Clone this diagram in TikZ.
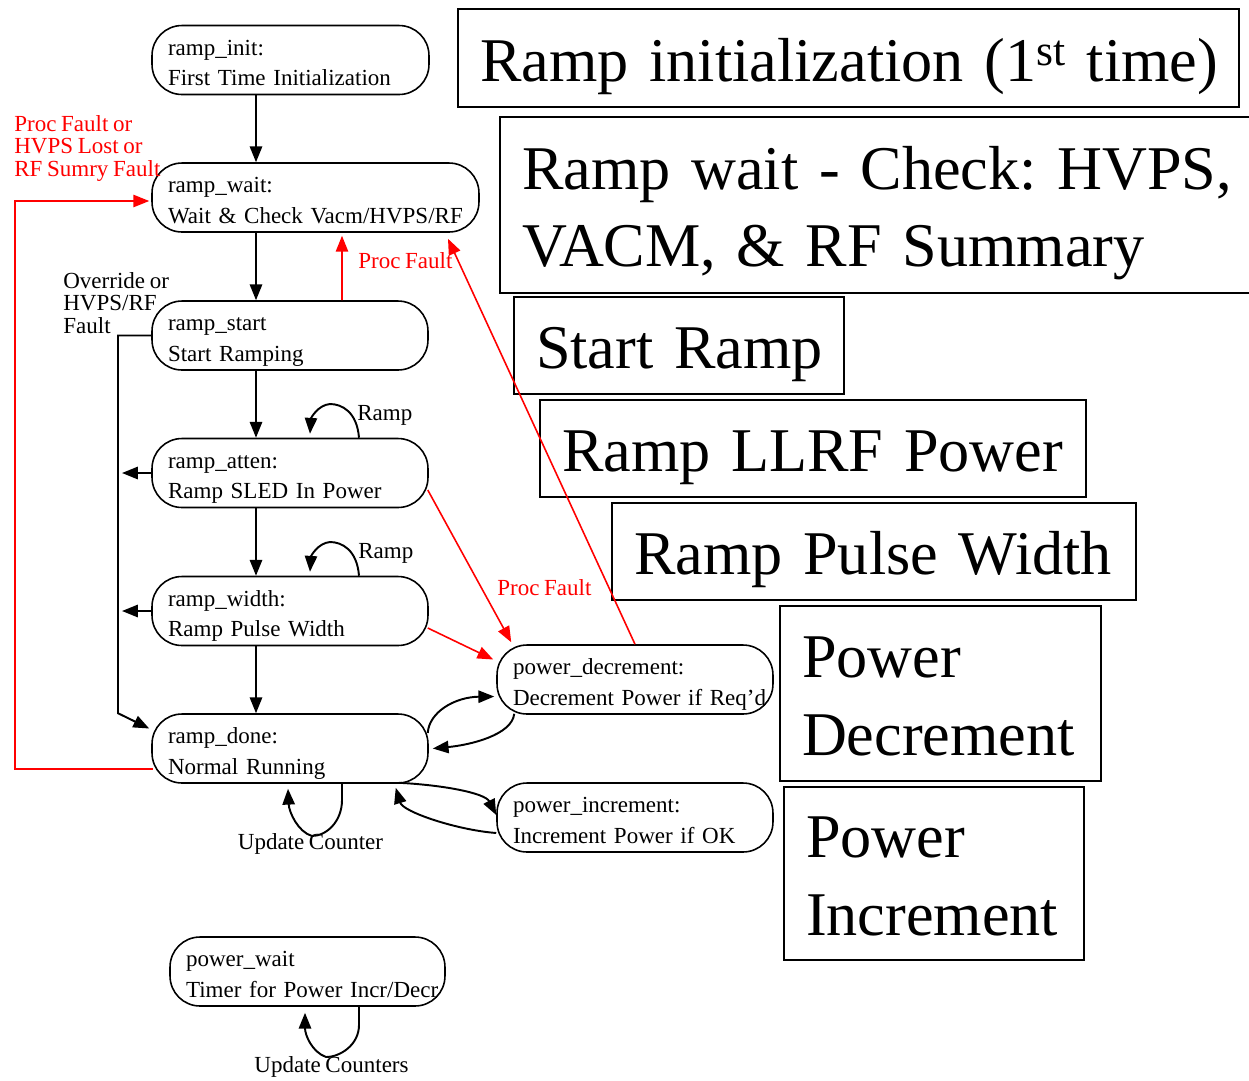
\documentclass[tikz,border=0pt]{standalone}
\usepackage{fontspec}
\setmainfont{Liberation Serif}
\usetikzlibrary{arrows.meta,calc}
\frenchspacing
\newcommand\smf{\fontsize{13.1pt}{17.6pt}\selectfont\spaceskip=0.2em plus 0.05em\relax}
\newcommand\lbf{\fontsize{13.1pt}{12.8pt}\selectfont\spaceskip=0.2em plus 0.05em\relax}
\newcommand\bgf{\fontsize{35.4pt}{44.2pt}\selectfont}
\newcommand\twol[2]{\rule{0pt}{0.52cm}\mbox{#1}\\\mbox{#2}\rule[-0.1cm]{0pt}{0.1cm}}
\newcommand\bone[1]{\rule{0pt}{1.32cm}\mbox{#1}\rule[-0.4cm]{0pt}{0.4cm}}
\newcommand\btwo[2]{\rule{0pt}{1.32cm}\mbox{#1}\\\mbox{#2}\rule[-0.4cm]{0pt}{0.4cm}}
\begin{document}
\begin{tikzpicture}[x=0.02cm,y=-0.02cm,
 st/.style={draw, line width=0.9pt, rounded corners=0.6cm, minimum height=1.38cm, inner xsep=0.32cm, inner ysep=0pt, align=left, font=\smf},
 bb/.style={draw, line width=1.1pt, inner xsep=0.44cm, inner ysep=0pt, align=left, font=\bgf},
 arr/.style={draw, line width=1.1pt, -{Triangle[length=9pt,width=7pt]}},
 rarr/.style={draw=red, line width=0.9pt, -{Triangle[length=9pt,width=7pt]}},
 lbl/.style={inner sep=0pt, font=\smf},
 mlbl/.style={inner sep=0pt, align=left, font=\lbf, anchor=north west},
]
\useasboundingbox (0,0) rectangle (1249,1080);

% state nodes
\node[st, text width=4.9cm]  (init)  at (290.5,60)   {\twol{ramp\_init:}{First Time Initialization}};
\node[st, text width=5.9cm]  (wait)  at (315.5,197.5){\twol{ramp\_wait:}{Wait \& Check Vacm/HVPS/RF}};
\node[st, text width=4.88cm] (start) at (290,335.5)  {\twol{ramp\_start}{Start Ramping}};
\node[st, text width=4.88cm] (atten) at (290,473)    {\twol{ramp\_atten:}{Ramp SLED In Power}};
\node[st, text width=4.88cm] (width) at (290,611)    {\twol{ramp\_width:}{Ramp Pulse Width}};
\node[st, text width=4.88cm] (done)  at (290,748.5)  {\twol{ramp\_done:}{Normal Running}};
\node[st, text width=4.88cm] (pdec)  at (635,679.5)  {\twol{power\_decrement:}{Decrement Power if Req’d}};
\node[st, text width=4.88cm] (pinc)  at (635,817.5)  {\twol{power\_increment:}{Increment Power if OK}};
\node[st, text width=4.86cm] (pwait) at (307.5,971.5){\twol{power\_wait}{Timer for Power Incr/Decr}};

% big description boxes
\node[bb, minimum height=1.96cm, text width=14.74cm] (b1) at (848.5,58)  {\bone{Ramp initialization (1\textsuperscript{st} time)}};
\node[bb, minimum height=3.52cm, text width=14.14cm] (b2) at (875.5,205) {\btwo{Ramp wait - Check: HVPS,}{VACM, \& RF Summary}};
\node[bb, minimum height=1.94cm, text width=5.72cm]  (b3) at (679,345.5) {\bone{Start Ramp}};
\node[bb, minimum height=1.94cm, text width=10.04cm] (b4) at (813,448.5) {\bone{Ramp LLRF Power}};
\node[bb, minimum height=1.94cm, text width=9.6cm]   (b5) at (874,551.5) {\bone{Ramp Pulse Width}};
\node[bb, minimum height=3.5cm,  text width=5.54cm]  (b6) at (940.5,693.5){\btwo{Power}{Decrement}};
\node[bb, minimum height=3.46cm, text width=5.12cm]  (b7) at (934,873.5)  {\btwo{Power}{Increment}};

% main vertical chain
\coordinate (cx) at (256,0);
\draw[arr] (init.south -| cx)  -- (wait.north -| cx);
\draw[arr] (wait.south -| cx)  -- (start.north -| cx);
\draw[arr] (start.south -| cx) -- (atten.north -| cx);
\draw[arr] (atten.south -| cx) -- (width.north -| cx);
\draw[arr] (width.south -| cx) -- (done.north -| cx);

% left exits
\coordinate (ax) at (122,0);
\draw[arr] (atten.west) -- (atten.west -| ax);
\draw[arr] (width.west) -- (width.west -| ax);

% override line
\coordinate (ox) at (118,0);
\draw[arr] (start.west) -- (start.west -| ox) -- (ox |- done.north west) -- ($(done.west)+(-2,-20)$);
\node[mlbl] (ovr) at (63,272) {Override or\\HVPS/RF\\Fault};

% red fault loop
\coordinate (rx) at (15,0);
\coordinate (r1) at ($(done.west)+(2,20.5)$);
\coordinate (r2) at ($(wait.west)+(-2,3.5)$);
\draw[rarr] (r1) -- (r1 -| rx) -- (rx |- r2) -- (r2);
\node[mlbl, text=red] (pf1) at (14,115) {Proc Fault or\\HVPS Lost or\\RF Sumry Fault};

% red proc faults
\draw[rarr] ($(start.north)+(52,0)$) -- ($(wait.south)+(26.5,3)$);
\node[lbl, text=red, anchor=base west] (pf2) at (358,268) {Proc Fault};
\draw[rarr] (pdec.north) -- ($(wait.south)+(132.5,6)$);
\draw[rarr] ($(atten.east)+(-1,17)$) -- ($(pdec.north west)+(15,-2)$);
\draw[rarr] ($(width.east)+(-1,17)$) -- ($(pdec.west)+(-3,-20)$);
\node[lbl, text=red, anchor=base west] (pf3) at (497,595) {Proc Fault};

% Ramp self loops
\draw[arr] ($(atten.north)+(69,0)$) .. controls (357,412) and (342,404) .. (330,404)
   .. controls (318,405) and (311,418) .. ($(atten.north)+(20,-4)$);
\node[lbl, anchor=base west] (rp1) at (357,420) {Ramp};
\draw[arr] ($(width.north)+(69,0)$) .. controls (357,550) and (342,542) .. (330,542)
   .. controls (318,543) and (311,556) .. ($(width.north)+(20,-4)$);
\node[lbl, anchor=base west] (rp2) at (358,558) {Ramp};

% done <-> power_decrement
\draw[arr] ($(done.east)+(-1,-15.5)$) .. controls (429,712) and (455,697) .. ($(pdec.west)+(-2,17)$);
\draw[arr] ($(pdec.south west)+(18,-1)$) .. controls (512,735) and (470,745) .. ($(done.east)+(4,0)$);

% done <-> power_increment
\draw[arr] ($(done.south east)+(-30,-1)$) .. controls (443,785) and (485,793) .. ($(pinc.west)+(0,-2.5)$);
\draw[arr] ($(pinc.west)+(0,15.5)$) .. controls (457,830) and (403,812) .. ($(done.south east)+(-33,4)$);

% done self loop
\draw[arr] ($(done.south)+(52,0)$) -- (342,800) .. controls (342,822) and (326,836) .. (312,836)
   .. controls (298,832) and (289,812) .. ($(done.south)+(-2,5)$);
\node[lbl, anchor=base] (uc1) at (310.5,849) {Update Counter};

% power_wait self loop
\draw[arr] ($(pwait.south)+(51.5,0)$) -- (359,1025) .. controls (359,1045) and (340,1057) .. (326,1057)
   .. controls (312,1052) and (305,1035) .. ($(pwait.south)+(-2.5,6)$);
\node[lbl, anchor=base] (uc2) at (331.5,1072) {Update Counters};
\end{tikzpicture}
\end{document}
